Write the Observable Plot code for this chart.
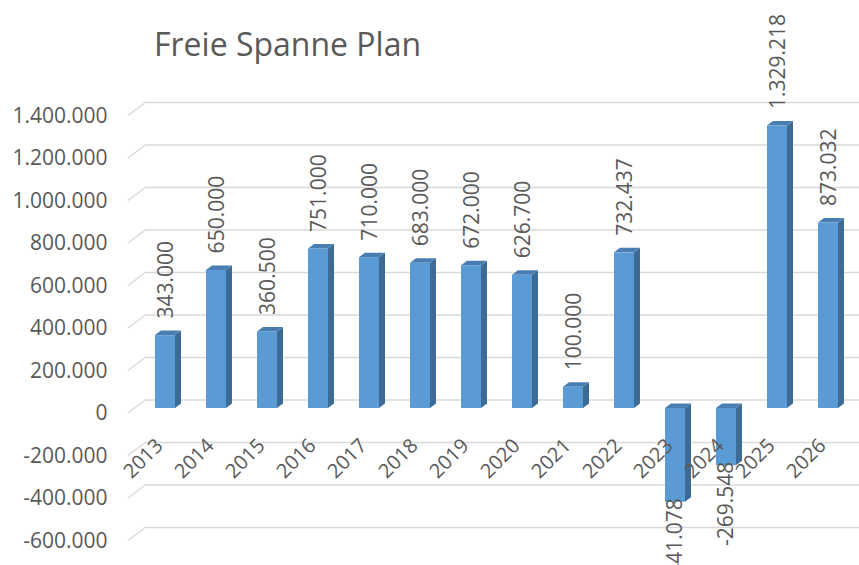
<!DOCTYPE html>
<html><head><meta charset="utf-8">
<script src="https://cdn.jsdelivr.net/npm/d3@7"></script>
<script src="https://cdn.jsdelivr.net/npm/@observablehq/plot@0.6"></script>
<style>
body{margin:0;background:#fff;}
#wrap{position:relative;width:859px;height:565px;overflow:hidden;background:#fff;}
#title{position:absolute;left:154px;top:22px;font-family:"Open Sans";font-size:32px;color:#595959;white-space:nowrap;z-index:2;line-height:1.36;}
#chart{position:absolute;left:0;top:0;}
</style></head><body>
<div id="wrap"><div id="chart"></div><div id="title">Freie Spanne Plan</div></div>
<script>
const years = ["2013","2014","2015","2016","2017","2018","2019","2020","2021","2022","2023","2024","2025","2026"];
const values = [343000, 650000, 360500, 751000, 710000, 683000, 672000, 626700, 100000, 732437, -441078, -269548, 1329218, 873032];
const yTicks = [-600000, -400000, -200000, 0, 200000, 400000, 600000, 800000, 1000000, 1200000, 1400000];

const data = years.map((year, i) => ({year, value: values[i]}));
const fmt = d3.formatLocale({decimal: ",", thousands: ".", grouping: [3], currency: ["", " €"], minus: "-"}).format(",d");

const WALL_DX = 18, WALL_DY = 13.5;   // back wall offset
const BAR_DY = -5;                    // bars sit slightly behind the front plane
const DEPTH_DX = 6, DEPTH_DY = 4.5;   // bar depth
const FRONT = "#5b9bd5", SIDE = "#3d6b95", TOP = "#4a7eb3", GRID = "#d9d9d9", TEXT = "#595959";

// left wall diagonals
function wall(index, scales, values, dim) {
  const {y} = scales;
  const g = d3.create("svg:g").attr("stroke", GRID).attr("stroke-width", 1.5).attr("fill", "none");
  for (const t of yTicks) {
    const x0 = dim.marginLeft, y0 = y(t);
    g.append("path").attr("d", `M${x0},${y0}L${x0 + WALL_DX},${y0 - WALL_DY}`);
  }
  return g.node();
}

// side and top faces of each bar
function faces(index, scales) {
  const {x, y} = scales;
  const bw = x.bandwidth();
  const g = d3.create("svg:g");
  for (const d of data) {
    const x1 = x(d.year), x2 = x1 + bw;
    const a = y(0) + BAR_DY, b = y(d.value) + BAR_DY;
    const yt = Math.min(a, b), yb = Math.max(a, b);
    g.append("path").attr("fill", SIDE)
      .attr("d", `M${x2},${yt}L${x2 + DEPTH_DX},${yt - DEPTH_DY}L${x2 + DEPTH_DX},${yb - DEPTH_DY}L${x2},${yb}Z`);
    g.append("path").attr("fill", TOP)
      .attr("d", `M${x1},${yt}L${x2},${yt}L${x2 + DEPTH_DX},${yt - DEPTH_DY}L${x1 + DEPTH_DX},${yt - DEPTH_DY}Z`);
  }
  return g.node();
}

const chart = Plot.plot({
  width: 859,
  height: 565,
  marginLeft: 128,
  marginRight: 0,
  marginTop: 115.5,
  marginBottom: 24.5,
  style: {fontFamily: "Open Sans", fontSize: "21px", color: TEXT, background: "#fff"},
  x: {type: "band", domain: years, paddingInner: 0.603, paddingOuter: 0.378, align: 0.565, axis: null},
  y: {domain: [-600000, 1400000], axis: null},
  marks: [
    Plot.ruleY(yTicks, {stroke: GRID, strokeWidth: 1.5, dx: WALL_DX, dy: -WALL_DY}),
    wall,
    faces,
    Plot.barY(data, {x: "year", y: "value", fill: FRONT, dy: BAR_DY}),
    Plot.text(yTicks, {y: d => d, text: d => fmt(d), frameAnchor: "left", textAnchor: "end", dx: -21, fill: TEXT, fontSize: 21}),
    Plot.text(data, {x: "year", y: 0, text: "year", rotate: -45, textAnchor: "end", dx: -6, dy: 29, fill: TEXT, fontSize: 20}),
    Plot.text(data.filter(d => d.value >= 0), {x: "year", y: "value", text: d => fmt(d.value), rotate: -90, textAnchor: "start", dx: 1, dy: -22, fill: TEXT, fontSize: 21}),
    Plot.text(data.filter(d => d.value < 0), {x: "year", y: "value", text: d => fmt(d.value), rotate: -90, textAnchor: "end", dx: 0, dy: -9, fill: TEXT, fontSize: 21})
  ]
});
document.getElementById("chart").appendChild(chart);
</script>
</body></html>
